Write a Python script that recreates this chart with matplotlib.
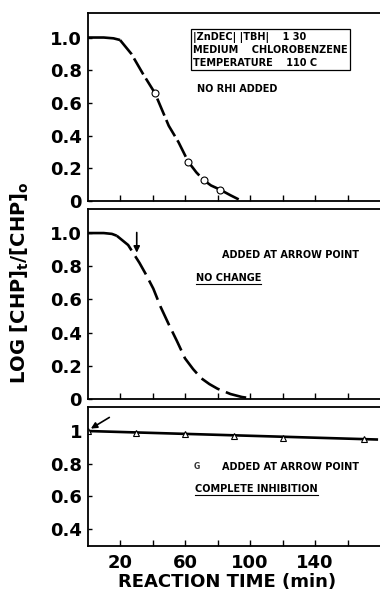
import matplotlib
matplotlib.use('Agg')
import matplotlib.pyplot as plt
from matplotlib.lines import Line2D

# panel 1: no additive
time1 = [0, 10, 16, 20, 27, 34, 41.5, 50, 56, 62, 67, 71.5, 76, 81.5, 88, 94]
logc1 = [1.0, 1.0, 0.995, 0.985, 0.9, 0.78, 0.66, 0.46, 0.36, 0.24, 0.175, 0.128, 0.095, 0.07, 0.035, 0.005]
pts1_t = [41.5, 62, 71.5, 81.5]
pts1_y = [0.66, 0.24, 0.128, 0.07]

# panel 2: added at arrow, no change
time2 = [0, 10, 15, 18, 25, 32, 36, 40.5, 45, 50, 55, 60, 65, 70, 75, 80, 88, 95, 100]
logc2 = [1.0, 1.0, 0.995, 0.984, 0.928, 0.82, 0.75, 0.665, 0.555, 0.45, 0.35, 0.245, 0.18, 0.125, 0.09, 0.062, 0.03, 0.012, 0.005]
arrow2 = (30.3, 1.02, 0.865)

# panel 3: complete inhibition
time3 = [0, 30, 60, 90, 120, 170]
logc3 = [1.0, 0.99, 0.98, 0.97, 0.96, 0.95]
line3_t = [0, 178]
line3_y = [1.0, 0.948]

xticks = [20, 40, 60, 80, 100, 120, 140, 160]
xticklabels = ['20', '', '60', '', '100', '', '140', '']
yticks12 = [0, 0.2, 0.4, 0.6, 0.8, 1.0]
yticklabels12 = ['0', '0.2', '0.4', '0.6', '0.8', '1.0']
yticks3 = [0.4, 0.6, 0.8, 1.0]
yticklabels3 = ['0.4', '0.6', '0.8', '1']

W, H = 380, 592
fig = plt.figure(figsize=(W / 100, H / 100), dpi=100)

def px_axes(top, bottom, left=87.5, right=380):
    return fig.add_axes([left / W, 1 - bottom / H, (right - left) / W, (bottom - top) / H])

ax1 = px_axes(13, 201)
ax2 = px_axes(209, 399)
ax3 = px_axes(407, 546)

tickfont = dict(fontsize=13, fontweight='bold', family='DejaVu Sans')
for ax in (ax1, ax2, ax3):
    ax.set_xlim(0, 180)
    ax.spines['right'].set_visible(False)
    for s in ('left', 'bottom', 'top'):
        ax.spines[s].set_linewidth(1.3)
    ax.set_xticks(xticks)
    ax.tick_params(direction='in', length=4, width=1.0, pad=4)
    ax.tick_params(axis='y', length=3)

ax1.set_ylim(0, 1.15)
ax2.set_ylim(0, 1.145)
ax3.set_ylim(0.296, 1.147)

for ax in (ax1, ax2):
    ax.set_yticks(yticks12)
    ax.set_yticklabels(yticklabels12, **tickfont)
    ax.set_xticklabels([])
ax3.set_yticks(yticks3)
ax3.set_yticklabels(yticklabels3, **tickfont)
ax3.set_xticklabels(xticklabels, **tickfont)
ax3.tick_params(axis='x', pad=6)

# panel 1
ax1.plot(time1[:4], logc1[:4], color='black', lw=1.9, solid_capstyle='butt')
ax1.plot(time1[3:], logc1[3:], color='black', lw=1.9, linestyle=(0, (7, 1.8)))
ax1.plot(pts1_t, pts1_y, 'o', ms=5, mfc='white', mec='black', mew=0.8)

txt = dict(fontsize=7, fontweight='bold', family='DejaVu Sans')
ax1.text(65, 1.035, '|ZnDEC| |TBH|    1 30\nMEDIUM    CHLOROBENZENE\nTEMPERATURE    110 C',
         va='top', ha='left', linespacing=1.3, **txt,
         bbox=dict(boxstyle='square,pad=0.2', fc='white', ec='black', lw=0.9))
ax1.text(67.4, 0.685, 'NO RHI ADDED', va='center', ha='left', **txt)

# panel 2
ax2.plot(time2[:4], logc2[:4], color='black', lw=1.9, solid_capstyle='butt')
ax2.plot(time2[3:], logc2[3:], color='black', lw=1.9, linestyle=(0, (8, 2.6)))
ax2.annotate('', xy=(arrow2[0], arrow2[2]), xytext=(arrow2[0], arrow2[1]),
             arrowprops=dict(arrowstyle='-|>', color='black', lw=1.2, mutation_scale=9))
ax2.text(82.8, 0.867, 'ADDED AT ARROW POINT', va='center', ha='left', **txt)
t2 = ax2.text(66.8, 0.729, 'NO CHANGE', va='center', ha='left', **txt)

# panel 3
ax3.plot(line3_t, line3_y, color='black', lw=1.9)
ax3.plot(time3, logc3, '^', ms=4, mfc='white', mec='black', mew=0.8)
ax3.annotate('', xy=(0.6, 1.006), xytext=(14.9, 1.092),
             arrowprops=dict(arrowstyle='-|>', color='black', lw=1.2, mutation_scale=9))
ax3.text(65.5, 0.78, 'G', va='center', ha='left', fontsize=5.5, fontweight='bold', color='#333333')
ax3.text(82.8, 0.78, 'ADDED AT ARROW POINT', va='center', ha='left', **txt)
t3 = ax3.text(66.2, 0.645, 'COMPLETE INHIBITION', va='center', ha='left', **txt)

fig.text(20 / W, 1 - 283 / H, r'LOG [CHP]$_\mathbf{t}$/[CHP]$_\mathbf{o}$', rotation=90,
         ha='center', va='center', fontsize=14, fontweight='bold', family='DejaVu Sans')
fig.text(227 / W, 1 - 582 / H, 'REACTION TIME (min)', ha='center', va='center',
         fontsize=13, fontweight='bold', family='DejaVu Sans')

# underline the two result notes
fig.canvas.draw()
r = fig.canvas.get_renderer()
for t in (t2, t3):
    bb = t.get_window_extent(r)
    y = (bb.y0 - 1) / fig.bbox.height
    fig.add_artist(Line2D([bb.x0 / fig.bbox.width, bb.x1 / fig.bbox.width], [y, y],
                          color='black', lw=0.8))

fig.savefig('out.png', dpi=100)
